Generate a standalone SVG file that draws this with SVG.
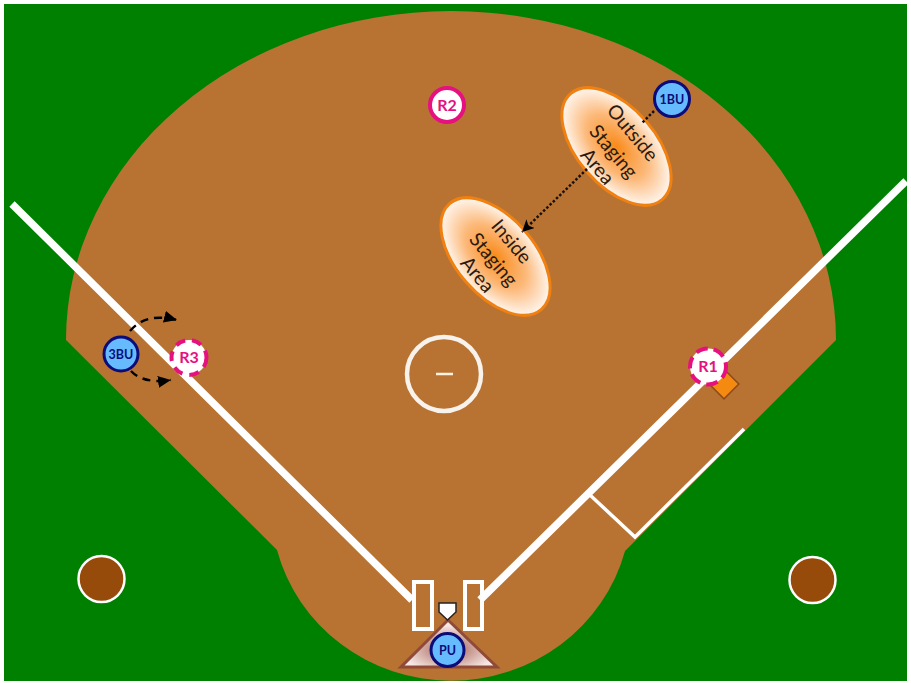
<svg xmlns="http://www.w3.org/2000/svg" width="911" height="683" viewBox="0 0 911 683">
<style>
.lbl{font-family:Lato,"Open Sans",sans-serif;font-weight:700;text-anchor:middle}
.area{font-family:Lato,"Open Sans",sans-serif;font-size:19.500px;fill:#2a1a10;text-anchor:middle}
.ump{fill:#66bbff;stroke:#0c0c78;stroke-width:3}
.ump-t{fill:#0c0c78;font-size:12.500px}
.run{fill:#fff;stroke:#e6107f;stroke-width:4}
.run-t{fill:#e6107f;font-size:16px}
.oval{fill:url(#g);stroke:#f08010;stroke-width:3}
.chalk{fill:none;stroke:#fff}
</style>
<defs>
<radialGradient id="g"><stop offset="0" stop-color="#f98a1a"/><stop offset="0.55" stop-color="#fcb878"/><stop offset="1" stop-color="#fff6ee"/></radialGradient>
<radialGradient id="m" cx="0.5" cy="0.62"><stop offset="0" stop-color="#a05a50"/><stop offset="1" stop-color="#f8e8e4"/></radialGradient>
<marker id="ah" markerUnits="userSpaceOnUse" markerWidth="14" markerHeight="14" refX="12" refY="6" orient="auto"><path d="M0 0L12 6L0 12L3 6z" fill="#000"/></marker>
<marker id="ah2" markerUnits="userSpaceOnUse" markerWidth="14" markerHeight="14" refX="13" refY="6" orient="auto"><path d="M0 0L13 6L0 12z" fill="#000"/></marker>
</defs>
<rect width="911" height="683" fill="#fff"/>
<rect x="4" y="4" width="903" height="677" fill="#008000"/>
<path id="dirt" d="M66 340A385 329 0 0 1 836 340L625 551A180 175 0 0 1 277 550Z" fill="#b87333"/>
<g id="chalk-lines">
<path class="chalk" stroke-width="7.500" d="M12 204L412 600M906 181L480 600"/>
<path class="chalk" stroke-width="3.500" d="M590 495L635 537L744 429"/>
<rect class="chalk" stroke-width="4" x="414" y="582" width="18" height="47"/>
<rect class="chalk" stroke-width="4" x="465" y="582" width="17" height="47"/>
<circle cx="444" cy="374" r="37" fill="none" stroke="#f8f2ec" stroke-width="4.500"/>
<path d="M436 374H453" stroke="#fff2e0" stroke-width="2.500"/>
</g>
<g id="mound-plate">
<path d="M448 620L497 667H401Z" fill="url(#m)" stroke="#8f4a3a" stroke-width="3"/>
<path d="M439 603H456V612L447.500 620L439 612Z" fill="#fff" stroke="#222" stroke-width="1.500"/>
</g>
<g id="bullpen-left"><circle cx="101.500" cy="579" r="23" fill="#964b0a" stroke="#fff" stroke-width="2.500"/></g>
<g id="bullpen-right"><circle cx="812.500" cy="580" r="23" fill="#964b0a" stroke="#fff" stroke-width="2.500"/></g>
<g id="first-base"><rect x="-10.500" y="-10.500" width="21" height="21" transform="translate(724 384) rotate(45)" fill="#f58a10" stroke="#8f4a1a" stroke-width="1.500"/></g>
<g id="outside-area">
<ellipse class="oval" cx="616.500" cy="146.500" rx="70" ry="39" transform="rotate(49 616.500 146.500)"/>
<text class="area" transform="translate(632 133) rotate(50)" y="6">Outside</text>
<text class="area" transform="translate(613 152) rotate(50)" y="6">Staging</text>
<text class="area" transform="translate(597 167) rotate(50)" y="6">Area</text>
</g>
<g id="inside-area">
<ellipse class="oval" cx="495.500" cy="256.500" rx="70" ry="39" transform="rotate(49 495.500 256.500)"/>
<text class="area" transform="translate(511 242) rotate(50)" y="6">Inside</text>
<text class="area" transform="translate(493 260) rotate(50)" y="6">Staging</text>
<text class="area" transform="translate(477 275) rotate(50)" y="6">Area</text>
</g>
<g id="connectors" fill="none" stroke="#1a1008">
<path d="M654 111L642 123" stroke-width="2.500" stroke-dasharray="2.500 2"/>
<path d="M587 169L522 232" stroke-width="2.500" stroke-dasharray="2.500 2" marker-end="url(#ah)"/>
<path d="M130 331Q146 312 177 320" stroke="#000" stroke-width="2.500" stroke-dasharray="8 6" marker-end="url(#ah2)"/>
<path d="M131 371Q143 384 171 380" stroke="#000" stroke-width="2.500" stroke-dasharray="8 6" marker-end="url(#ah2)"/>
</g>
<g id="R2"><circle class="run" cx="447" cy="105" r="17"/><text class="lbl run-t" x="447" y="111">R2</text></g>
<g id="R3"><circle class="run" cx="189" cy="357.500" r="17.500" stroke-dasharray="10 7"/><text class="lbl run-t" x="189" y="363">R3</text></g>
<g id="R1"><circle class="run" cx="708" cy="366.500" r="18" stroke-dasharray="12 6"/><text class="lbl run-t" x="708" y="372">R1</text></g>
<g id="1BU"><circle class="ump" cx="672" cy="99" r="17.500"/><text class="lbl ump-t" x="672" y="103.500">1BU</text></g>
<g id="3BU"><circle class="ump" cx="121" cy="354" r="17"/><text class="lbl ump-t" x="121" y="358.500">3BU</text></g>
<g id="PU"><circle class="ump" cx="447.500" cy="650" r="16.500"/><text class="lbl ump-t" x="447.500" y="654.500">PU</text></g>
</svg>
